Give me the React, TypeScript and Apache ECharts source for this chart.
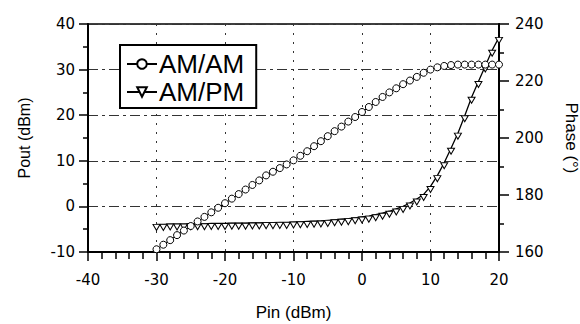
import React, { useEffect, useRef } from "react";
import * as echarts from "echarts";

const pinDbm = [
  -30, -29, -28, -27, -26, -25, -24, -23, -22, -21,
  -20, -19, -18, -17, -16, -15, -14, -13, -12, -11,
  -10, -9, -8, -7, -6, -5, -4, -3, -2, -1,
  0, 1, 2, 3, 4, 5, 6, 7, 8, 9,
  10, 11, 12, 13, 14, 15, 16, 17, 18, 19, 20,
];

const amAmPout = [
  -9.4, -8.4, -7.4, -6.3, -5.3, -4.3, -3.3, -2.3, -1.3, -0.3,
  0.7, 1.7, 2.7, 3.7, 4.7, 5.7, 6.8, 7.6, 8.4, 9.2,
  10.1, 11.1, 12.1, 13.2, 14.3, 15.4, 16.5, 17.5, 18.6, 19.6,
  20.7, 21.8, 22.9, 24.0, 25.0, 25.9, 26.8, 27.6, 28.4, 29.3,
  30.0, 30.5, 30.8, 31.0, 31.1, 31.1, 31.1, 31.1, 31.1, 31.1, 31.1,
];

const amPmPhase = [
  169.7, 169.7, 169.8, 169.8, 169.8, 169.9, 169.9, 169.9, 170.0, 170.0,
  170.0, 170.1, 170.1, 170.1, 170.2, 170.2, 170.3, 170.3, 170.4, 170.4,
  170.5, 170.6, 170.7, 170.8, 170.9, 171.1, 171.3, 171.5, 171.7, 172.0,
  172.3, 172.6, 173.1, 173.6, 174.3, 175.1, 176.0, 177.2, 178.6, 180.2,
  183.0, 186.8, 191.3, 196.4, 201.7, 207.8, 214.3, 219.8, 225.3, 230.8, 235.3,
];

const seriesNames = ["AM/AM", "AM/PM"];

const tickFont = "DejaVu Sans";
const nameFont = "Liberation Sans";

export default function App() {
  const ref = useRef<HTMLDivElement>(null);

  useEffect(() => {
    const chart = echarts.init(ref.current!, null, { renderer: "svg" });
    const amAmData = pinDbm.map((x, i) => [x, amAmPout[i]]);
    const amPmData = pinDbm.map((x, i) => [x, amPmPhase[i]]);

    const tickStyle = { color: "#000", width: 1.5 };
    const minorStyle = { color: "#000", width: 1.5 };

    chart.setOption({
      animation: false,
      backgroundColor: "#fff",
      grid: {
        left: 88,
        right: 81,
        top: 24,
        bottom: 72,
        containLabel: false,
        outerBoundsMode: "none",
        show: true,
        borderColor: "#000",
        borderWidth: 1.5,
        backgroundColor: "transparent",
      },
      legend: {
        data: seriesNames,
        orient: "vertical",
        left: 120,
        top: 45,
        backgroundColor: "#fff",
        borderColor: "#000",
        borderWidth: 2,
        borderRadius: 0,
        padding: [6, 12, 3, 6],
        itemGap: 2,
        itemWidth: 30,
        itemHeight: 12,
        textStyle: {
          fontFamily: nameFont,
          fontSize: 26,
          color: "#000",
          padding: [0, 0, 0, -3],
        },
      },
      xAxis: {
        type: "value",
        min: -40,
        max: 20,
        interval: 10,
        name: "Pin (dBm)",
        nameLocation: "middle",
        nameGap: 52,
        nameTextStyle: { fontFamily: nameFont, fontSize: 17, color: "#000" },
        axisLine: { show: true, onZero: false, lineStyle: { color: "#000", width: 2 } },
        axisTick: { show: true, inside: false, length: 9, lineStyle: tickStyle },
        minorTick: { show: true, splitNumber: 5, length: 7, lineStyle: minorStyle },
        axisLabel: { margin: 20, fontFamily: tickFont, fontSize: 15, color: "#000" },
        splitLine: { show: true, lineStyle: { color: "#333", width: 1, type: [2, 7] } },
      },
      yAxis: [
        {
          type: "value",
          position: "left",
          min: -10,
          max: 40,
          interval: 10,
          name: "Pout (dBm)",
          nameLocation: "middle",
          nameGap: 56,
          nameTextStyle: { fontFamily: nameFont, fontSize: 16, color: "#000" },
          axisLine: { show: true, onZero: false, lineStyle: { color: "#000", width: 2 } },
          axisTick: { show: true, inside: false, length: 9, lineStyle: tickStyle },
          minorTick: { show: true, splitNumber: 2, length: 5, lineStyle: minorStyle },
          axisLabel: { margin: 13, fontFamily: tickFont, fontSize: 15, color: "#000" },
          splitLine: { show: true, lineStyle: { color: "#333", width: 1, type: [10, 4, 3, 4] } },
        },
        {
          type: "value",
          position: "right",
          min: 160,
          max: 240,
          interval: 20,
          name: "Phase (°)",
          nameLocation: "middle",
          nameRotate: -90,
          nameGap: 64,
          nameTextStyle: { fontFamily: nameFont, fontSize: 17, color: "#000" },
          axisLine: { show: true, onZero: false, lineStyle: { color: "#000", width: 2 } },
          axisTick: { show: true, inside: false, length: 10, lineStyle: tickStyle },
          minorTick: { show: true, splitNumber: 2, length: 5, lineStyle: minorStyle },
          axisLabel: { margin: 16, fontFamily: tickFont, fontSize: 15, color: "#000" },
          splitLine: { show: false },
        },
      ],
      series: [
        {
          name: seriesNames[1],
          type: "line",
          yAxisIndex: 1,
          data: amPmData,
          symbol: "path://M0,0L8,0L4,7Z",
          symbolSize: [7, 6],
          symbolOffset: [0, 3],
          showAllSymbol: true,
          lineStyle: { color: "#000", width: 1.3 },
          itemStyle: { color: "#fff", borderColor: "#000", borderWidth: 1 },
          z: 2,
        },
        {
          name: seriesNames[0],
          type: "line",
          yAxisIndex: 0,
          data: amAmData,
          symbol: "circle",
          symbolSize: 7,
          showAllSymbol: true,
          lineStyle: { color: "#000", width: 1.2 },
          itemStyle: { color: "#fff", borderColor: "#000", borderWidth: 1 },
          z: 3,
        },
      ],
    });

    return () => chart.dispose();
  }, []);

  return (
    <div
      ref={ref}
      style={{ position: "fixed", left: 0, top: 0, width: 580, height: 324, background: "#fff" }}
    />
  );
}
